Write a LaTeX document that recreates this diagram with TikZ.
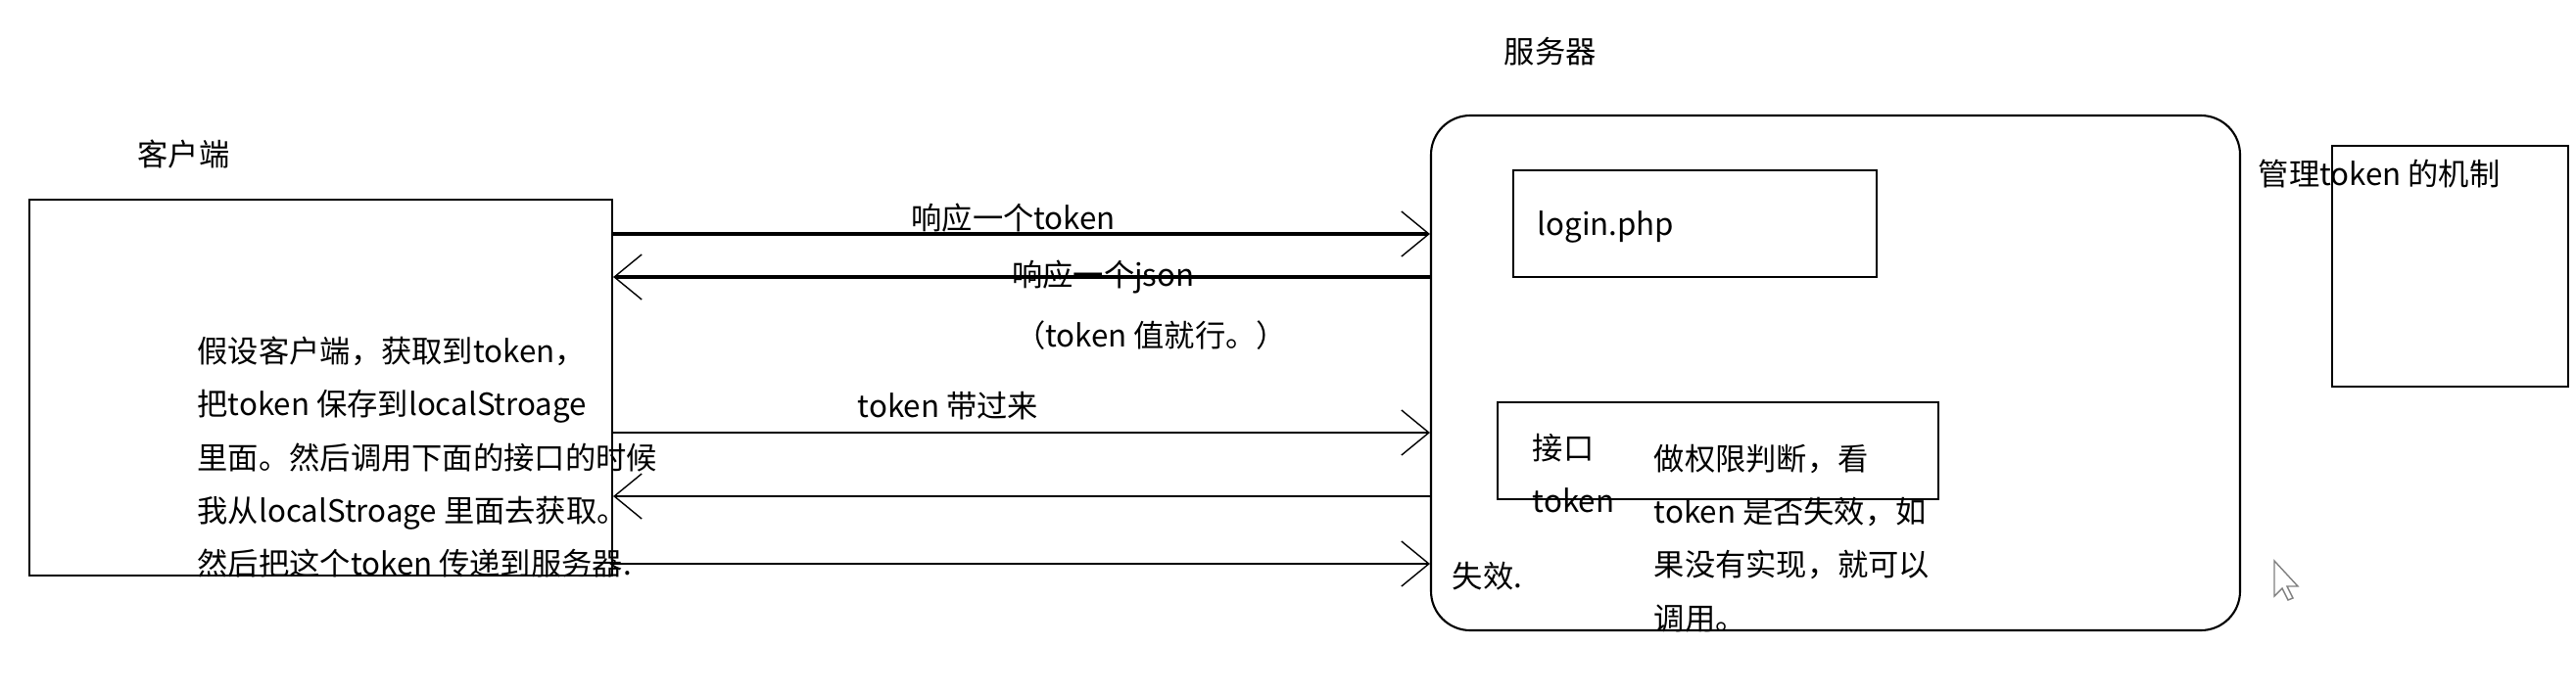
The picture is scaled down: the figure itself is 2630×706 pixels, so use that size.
\documentclass[tikz,border=0pt]{standalone}
\usepackage{fontspec}
\setmainfont{Noto Sans CJK SC}
\usepackage{tikz}
\usetikzlibrary{positioning}
\usetikzlibrary{calc}
\usetikzlibrary{arrows.meta}
\tikzset{box/.style={draw, line width=0.6pt, inner sep=0pt}}
\tikzset{txt/.style={inner sep=0pt, anchor=west, align=left}}
\tikzset{flow/.style={line width=0.6pt, -{Straight Barb[length=2.8mm,width=4.6mm,line width=0.4pt]}}}
\tikzset{bold flow/.style={flow, line width=1pt}}

\begin{document}
\begin{tikzpicture}[x=0.1mm, y=-0.1mm, font=\fontsize{8.9}{15.4}\selectfont]
\useasboundingbox (0,0) rectangle (2630,706);

\node[box, minimum width=59.5mm, minimum height=38.4mm] (client) at (327.5,396) {};
\node[box, rounded corners=4mm, minimum width=82.6mm, minimum height=52.6mm] (server) at (1874,381) {};
\node[box, minimum width=37.1mm, minimum height=10.9mm] (login) at (1730.5,228.5) {};
\node[box, minimum width=45mm, minimum height=9.9mm] (api) at (1754,460.5) {};
\node[box, minimum width=24.1mm, minimum height=24.6mm] (manage) at (2501.5,272) {};

\node[txt] (clientlbl) at (140,158) {客户端};
\node[txt] (serverlbl) at (1535,53) {服务器};
\node[txt] (managelbl) at (2305,178) {管理token 的机制};
\node[txt] (loginlbl) at (1569,232) {login.php};
\node[txt] (apilbl) at (1564,484) {接口\\token};
\node[txt] (checklbl) at (1688,550) {做权限判断，看\\token 是否失效，如\\果没有实现，就可以\\调用。};
\node[txt] (faillbl) at (1482,589) {失效.};
\node[txt] (steps) at (201,467) {假设客户端，获取到token，\\把token 保存到localStroage\\里面。然后调用下面的接口的时候\\我从localStroage 里面去获取。\\然后把这个token 传递到服务器.};

\coordinate (r1) at (0,239);
\coordinate (r2) at (0,283);
\coordinate (r3) at (0,442);
\coordinate (r4) at (0,507);
\coordinate (r5) at (0,576);

\draw[bold flow] (client.east |- r1) -- node[pos=0.49, above, inner sep=0pt] (tokenlbl) {响应一个token} (server.west |- r1);
\draw[bold flow] (server.west |- r2) -- node[pos=0.4, inner sep=0pt] (jsonlbl) {响应一个json} (client.east |- r2);
\node[txt, anchor=center] (valuelbl) at (1175,343) {（token 值就行。）};
\draw[flow] (client.east |- r3) -- node[pos=0.41, above=1.2mm, inner sep=0pt] (carrylbl) {token 带过来} (server.west |- r3);
\draw[flow] (server.west |- r4) -- (client.east |- r4);
\draw[flow] (client.east |- r5) -- (server.west |- r5);

\draw[gray, fill=white, line width=0.4pt, shift={(2322,573)}]
  (0,0) -- (0,36) -- (8,28) -- (14,40) -- (19,38) -- (13,26) -- (24,26) -- cycle;
\end{tikzpicture}
\end{document}
